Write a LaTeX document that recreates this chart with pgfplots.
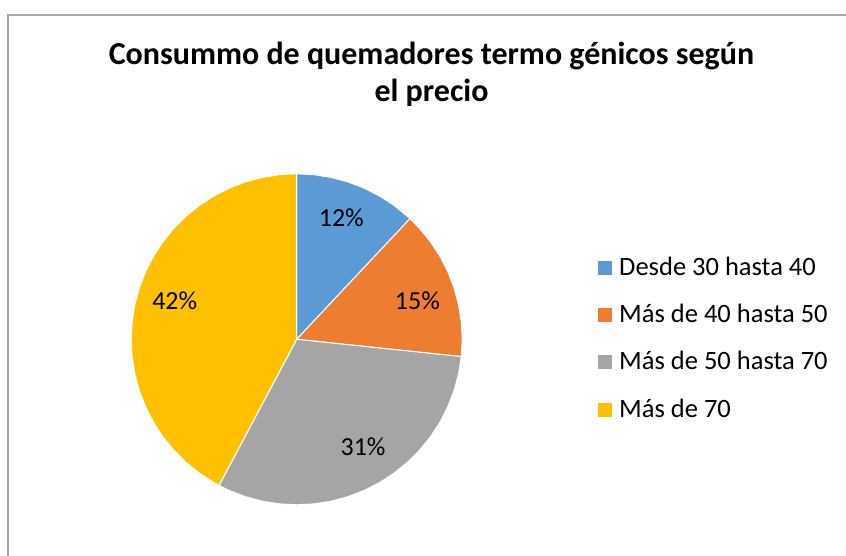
\documentclass[border=0pt]{standalone}
\usepackage{fontspec}
\setmainfont{Carlito}
\usepackage{pgfplots}
\pgfplotsset{compat=1.18}
\usepgfplotslibrary{polar}
\definecolor{cBlue}{HTML}{5B9BD5}
\definecolor{cOrange}{HTML}{ED7D31}
\definecolor{cGray}{HTML}{A5A5A5}
\definecolor{cYellow}{HTML}{FFC000}
\definecolor{frameGray}{HTML}{A6A6A6}
\begin{document}
\begin{tikzpicture}
\useasboundingbox (0,0) rectangle (846bp,556bp);
\draw[color=frameGray, line width=1.5bp] (8bp,-20bp) -- (8bp,541bp) -- (870bp,541bp);
\node[anchor=base, inner sep=0pt, font=\fontsize{32bp}{39bp}\selectfont\bfseries] at (431.5bp,491bp) {Consummo de quemadores termo génicos según};
\node[anchor=base, inner sep=0pt, font=\fontsize{32bp}{39bp}\selectfont\bfseries] at (431.5bp,454.3bp) {el precio};
\begin{polaraxis}[
  at={(296.7bp,216.7bp)}, anchor=center,
  scale only axis, width=331bp, height=331bp,
  hide axis, xmin=0, xmax=360, ymin=0, ymax=1, clip=false,
  legend cell align=left,
  legend style={draw=none, fill=none, inner sep=0pt, outer sep=0pt,
    at={(1.411,0.502)}, anchor=west,
    font=\fontsize{26.5bp}{30bp}\selectfont,
    row sep=20.5bp, column sep=7bp,
    nodes={inner sep=0pt, text height=21bp, text depth=5.8bp}},
  legend image code/.code={\fill[#1,draw=none] (0bp,-7bp) rectangle (14bp,7bp);},
]
\addplot[fill=cBlue, draw=white, line width=1bp] coordinates {
  (0,0) (90,1) (84,1) (78,1) (72,1) (66,1) (60,1) (54,1) (48,1) (46.8,1) (0,0)};
\addlegendentry{Desde 30 hasta 40}
\addplot[fill=cOrange, draw=white, line width=1bp] coordinates {
  (0,0) (46.8,1) (42,1) (36,1) (30,1) (24,1) (18,1) (12,1) (6,1) (0,1) (-6,1) (0,0)};
\addlegendentry{Más de 40 hasta 50}
\addplot[fill=cGray, draw=white, line width=1bp] coordinates {
  (0,0) (-6,1) (-12,1) (-18,1) (-24,1) (-30,1) (-36,1) (-42,1) (-48,1) (-54,1)
  (-60,1) (-66,1) (-72,1) (-78,1) (-84,1) (-90,1) (-96,1) (-102,1) (-108,1)
  (-114,1) (-118,1) (0,0)};
\addlegendentry{Más de 50 hasta 70}
\addplot[fill=cYellow, draw=white, line width=1bp] coordinates {
  (0,0) (-118,1) (-120,1) (-126,1) (-132,1) (-138,1) (-144,1) (-150,1) (-156,1)
  (-162,1) (-168,1) (-174,1) (-180,1) (-186,1) (-192,1) (-198,1) (-204,1)
  (-210,1) (-216,1) (-222,1) (-228,1) (-234,1) (-240,1) (-246,1) (-252,1)
  (-258,1) (-264,1) (-270,1) (0,0)};
\addlegendentry{Más de 70}
\node[inner sep=0pt, font=\fontsize{26bp}{30bp}\selectfont] at (axis cs:69.8,0.781) {12\%};
\node[inner sep=0pt, font=\fontsize{26bp}{30bp}\selectfont] at (axis cs:17.5,0.765) {15\%};
\node[inner sep=0pt, font=\fontsize{26bp}{30bp}\selectfont] at (axis cs:-58.4,0.765) {31\%};
\node[inner sep=0pt, font=\fontsize{26bp}{30bp}\selectfont] at (axis cs:162.6,0.772) {42\%};
\end{polaraxis}
\end{tikzpicture}
\end{document}
